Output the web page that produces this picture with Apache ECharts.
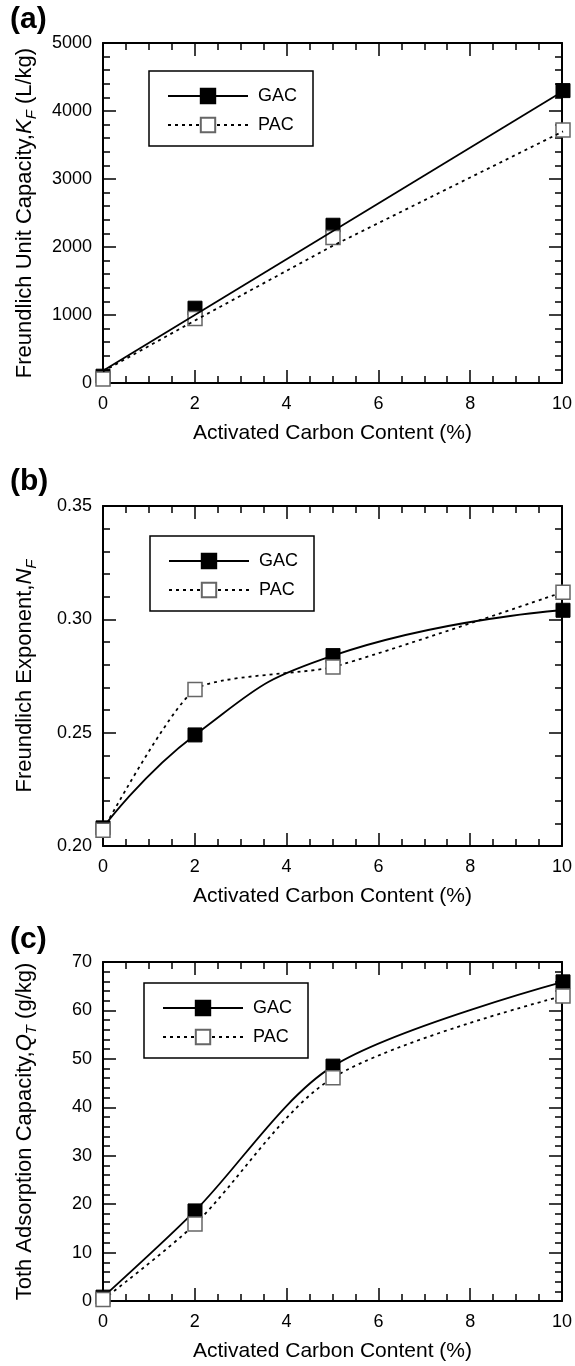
<!DOCTYPE html>
<html>
<head>
<meta charset="utf-8">
<script src="https://cdn.jsdelivr.net/npm/echarts@6/dist/echarts.min.js"></script>
<style>
  body { margin: 0; background: #fff; }
  #wrap { position: relative; width: 575px; height: 1366px; background: #fff; }
  #axes, #marks { position: absolute; left: 0; top: 0; width: 575px; height: 1366px; }
</style>
</head>
<body>
<div id="wrap">
  <div id="axes"></div>
  <div id="marks"></div>
</div>
<script>
// activated carbon content (%)
const carbon = [0, 2, 5, 10];

// (a) Freundlich unit capacity KF (L/kg)
const kfGac = [100, 1100, 2320, 4300];
const kfPac = [60, 950, 2140, 3720];
// fitted lines drawn through panel (a)
const kfGacFitX = [0, 10];
const kfGacFit = [180, 4290];
const kfPacFitX = [0, 2, 5, 10];
const kfPacFit = [170, 920, 2020, 3700];

// (b) Freundlich exponent NF
const nfGac = [0.208, 0.249, 0.284, 0.304];
const nfPac = [0.207, 0.269, 0.279, 0.312];

// (c) Toth adsorption capacity QT (g/kg)
const qtGac = [0.8, 18.6, 48.5, 65.9];
const qtPac = [0.3, 15.9, 46.1, 63.0];

// axis ranges per panel
const xRange = { min: 0, max: 10, interval: 2 };
const yRanges = [
  { min: 0, max: 5000, interval: 1000 },
  { min: 0.2, max: 0.35, interval: 0.05 },
  { min: 0, max: 70, interval: 10 }
];
const yNames = [
  '{n|Freundlich Unit Capacity,}{i|K}{s|F}{n| (L/kg)}',
  '{n|Freundlich Exponent,}{i|N}{s|F}',
  '{n|Toth Adsorption Capacity,}{i|Q}{s|T}{n| (g/kg)}'
];
const yFormats = [v => String(v), v => v.toFixed(2), v => String(v)];

const font = '"Liberation Sans", Arial, Helvetica, sans-serif';
const xTitle = 'Activated Carbon Content (%)';

const pairs = (xs, ys) => xs.map((x, i) => [x, ys[i]]);

const grids = () => [
  { left: 103, top: 43, width: 460, height: 340 },
  { left: 103, top: 506, width: 460, height: 340 },
  { left: 103, top: 962, width: 460, height: 339 }
];

// ---------- frame chart: boxed axes with inward ticks ----------
function frame(gi, split) {
  return {
    gridIndex: gi, type: 'value',
    axisLine: { show: true, onZero: false, lineStyle: { color: '#000', width: 2 } },
    axisTick: { show: true, inside: true, length: 13, lineStyle: { color: '#000', width: 1.5 } },
    minorTick: { show: true, splitNumber: split, length: 7, lineStyle: { color: '#000', width: 1.5 } },
    splitLine: { show: false },
    minorSplitLine: { show: false }
  };
}

const frameX = [], frameY = [];
[0, 1, 2].forEach(gi => {
  frameX.push(Object.assign(frame(gi, 4), xRange, {
    position: 'bottom',
    axisLabel: { color: '#000', fontSize: 18, margin: 12, fontFamily: font, formatter: v => String(v) },
    name: xTitle, nameLocation: 'middle', nameGap: 40,
    nameTextStyle: { color: '#000', fontSize: 21, fontFamily: font }
  }));
  frameX.push(Object.assign(frame(gi, 4), xRange, { position: 'top', axisLabel: { show: false } }));
  frameY.push(Object.assign(frame(gi, 5), yRanges[gi], {
    position: 'left',
    axisLabel: { color: '#000', fontSize: 18, margin: 11, fontFamily: font, formatter: yFormats[gi] },
    name: yNames[gi], nameLocation: 'middle', nameGap: 64,
    nameTextStyle: {
      color: '#000', fontSize: 22, fontFamily: font,
      rich: {
        n: { fontSize: 22, lineHeight: 29 },
        i: { fontSize: 22, lineHeight: 29, fontStyle: 'italic' },
        s: { fontSize: 15, lineHeight: 15, fontStyle: 'italic', verticalAlign: 'bottom' }
      }
    }
  }));
  frameY.push(Object.assign(frame(gi, 5), yRanges[gi], { position: 'right', axisLabel: { show: false } }));
});

const axesChart = echarts.init(document.getElementById('axes'));
axesChart.setOption({
  animation: false,
  grid: grids(),
  xAxis: frameX,
  yAxis: frameY,
  series: []
});

// ---------- marks chart: same scales, axes hidden, drawn on top ----------
const gacItem = () => ({ color: '#000', borderColor: '#000', borderWidth: 1, opacity: 1 });
const pacItem = () => ({ color: '#fff', borderColor: '#666', borderWidth: 1.5, opacity: 1 });
const solid = () => ({ color: '#000', width: 1.8, type: 'solid' });
const dotted = () => ({ color: '#000', width: 1.8, type: [3, 4] });

const markerLine = (name, gi, ys, item, line, smooth) => ({
  name: name, type: 'line', xAxisIndex: gi, yAxisIndex: gi,
  data: pairs(carbon, ys), smooth: smooth, clip: false,
  symbol: 'rect', symbolSize: 14, itemStyle: item, lineStyle: line
});

const series = [
  // (b) first, so the legends pick up line + marker icons
  markerLine('GAC', 1, nfGac, gacItem(), solid(), 0.5),
  markerLine('PAC', 1, nfPac, pacItem(), dotted(), 0.2),
  // (c)
  markerLine('GAC', 2, qtGac, gacItem(), solid(), 0.3),
  markerLine('PAC', 2, qtPac, pacItem(), dotted(), 0.3),
  // (a) fitted lines then markers
  { name: 'GAC fit', type: 'line', xAxisIndex: 0, yAxisIndex: 0, symbol: 'none',
    data: pairs(kfGacFitX, kfGacFit), lineStyle: solid() },
  { name: 'PAC fit', type: 'line', xAxisIndex: 0, yAxisIndex: 0, symbol: 'none',
    data: pairs(kfPacFitX, kfPacFit), lineStyle: dotted() },
  { name: 'GAC', type: 'scatter', xAxisIndex: 0, yAxisIndex: 0, symbol: 'rect', symbolSize: 14,
    data: pairs(carbon, kfGac), itemStyle: gacItem(), clip: false },
  { name: 'PAC', type: 'scatter', xAxisIndex: 0, yAxisIndex: 0, symbol: 'rect', symbolSize: 14,
    data: pairs(carbon, kfPac), itemStyle: pacItem(), clip: false }
];

function legendAt(left, top) {
  return {
    left: left, top: top, orient: 'vertical', selectedMode: false,
    itemWidth: 80, itemHeight: 18, itemGap: 11,
    padding: [16, 16, 12, 18],
    borderColor: '#000', borderWidth: 1.5, backgroundColor: '#fff',
    formatter: ' {name}',
    textStyle: { color: '#000', fontSize: 18, fontFamily: font },
    data: ['GAC', 'PAC']
  };
}

const panelTitle = (text, top) => ({
  text: text, left: 5, top: top,
  textStyle: { fontSize: 30, fontWeight: 'bold', color: '#000', fontFamily: font }
});

const marksChart = echarts.init(document.getElementById('marks'));
marksChart.setOption({
  animation: false,
  backgroundColor: 'transparent',
  title: [panelTitle('(a)', 0), panelTitle('(b)', 462), panelTitle('(c)', 920)],
  grid: grids(),
  legend: [legendAt(149, 71), legendAt(150, 536), legendAt(144, 983)],
  xAxis: [0, 1, 2].map(gi => Object.assign({ gridIndex: gi, type: 'value', show: false }, xRange)),
  yAxis: [0, 1, 2].map(gi => Object.assign({ gridIndex: gi, type: 'value', show: false }, yRanges[gi])),
  series: series
});
</script>
</body>
</html>
